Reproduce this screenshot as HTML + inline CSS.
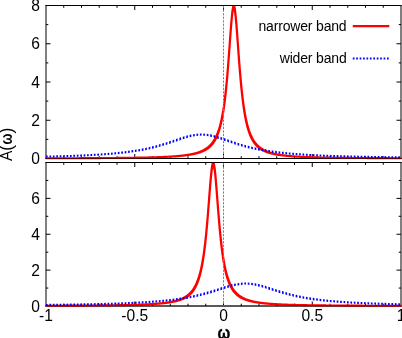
<!DOCTYPE html>
<html><head><meta charset="utf-8"><style>
html,body{margin:0;padding:0;background:#fff;overflow:hidden;}
svg{display:block;}
text{filter:grayscale(1);font-family:"Liberation Sans",sans-serif;font-size:15.6px;fill:#000;}
</style></head><body>
<svg width="402" height="338" viewBox="0 0 402 338">
<rect width="402" height="338" fill="#fff"/>
<clipPath id="c0"><rect x="45.5" y="6.0" width="356.0" height="156.0"/></clipPath>
<path d="M46.0,5.0 V159.0 M401.0,5.0 V159.0 M45.5,5.5 H401.5 M45.5,158.5 H401.5 M63.75,158.5 v-2.3 M63.75,5.5 v2.3 M81.50,158.5 v-2.3 M81.50,5.5 v2.3 M99.25,158.5 v-2.3 M99.25,5.5 v2.3 M117.00,158.5 v-2.3 M117.00,5.5 v2.3 M134.75,158.5 v-4.5 M134.75,5.5 v4.5 M152.50,158.5 v-2.3 M152.50,5.5 v2.3 M170.25,158.5 v-2.3 M170.25,5.5 v2.3 M188.00,158.5 v-2.3 M188.00,5.5 v2.3 M205.75,158.5 v-2.3 M205.75,5.5 v2.3 M223.50,158.5 v-4.5 M223.50,5.5 v4.5 M241.25,158.5 v-2.3 M241.25,5.5 v2.3 M259.00,158.5 v-2.3 M259.00,5.5 v2.3 M276.75,158.5 v-2.3 M276.75,5.5 v2.3 M294.50,158.5 v-2.3 M294.50,5.5 v2.3 M312.25,158.5 v-4.5 M312.25,5.5 v4.5 M330.00,158.5 v-2.3 M330.00,5.5 v2.3 M347.75,158.5 v-2.3 M347.75,5.5 v2.3 M365.50,158.5 v-2.3 M365.50,5.5 v2.3 M383.25,158.5 v-2.3 M383.25,5.5 v2.3 M46.0,139.38 h2.3 M401.0,139.38 h-2.3 M46.0,120.25 h4.5 M401.0,120.25 h-4.5 M46.0,101.12 h2.3 M401.0,101.12 h-2.3 M46.0,82.00 h4.5 M401.0,82.00 h-4.5 M46.0,62.88 h2.3 M401.0,62.88 h-2.3 M46.0,43.75 h4.5 M401.0,43.75 h-4.5 M46.0,24.62 h2.3 M401.0,24.62 h-2.3" stroke="#000" stroke-width="1" fill="none"/>
<g clip-path="url(#c0)">
<path d="M43.0,157.23 43.4,157.23 43.8,157.23 44.2,157.23 44.6,157.23 45.0,157.23 45.4,157.23 45.8,157.23 46.2,157.23 46.6,157.23 47.0,157.23 47.4,157.23 47.8,157.23 48.2,157.22 48.6,157.22 49.0,157.22 49.4,157.22 49.8,157.22 50.2,157.22 50.6,157.22 51.0,157.22 51.4,157.22 51.8,157.22 52.2,157.21 52.6,157.21 53.0,157.21 53.4,157.21 53.8,157.21 54.2,157.21 54.6,157.21 55.0,157.21 55.4,157.21 55.8,157.21 56.2,157.20 56.6,157.20 57.0,157.20 57.4,157.20 57.8,157.20 58.2,157.20 58.6,157.20 59.0,157.20 59.4,157.19 59.8,157.19 60.2,157.19 60.6,157.19 61.0,157.19 61.4,157.19 61.8,157.19 62.2,157.19 62.6,157.19 63.0,157.18 63.4,157.18 63.8,157.18 64.2,157.18 64.6,157.18 65.0,157.18 65.4,157.18 65.8,157.17 66.2,157.17 66.6,157.17 67.0,157.17 67.4,157.17 67.8,157.17 68.2,157.17 68.6,157.17 69.0,157.16 69.4,157.16 69.8,157.16 70.2,157.16 70.6,157.16 71.0,157.16 71.4,157.16 71.8,157.15 72.2,157.15 72.6,157.15 73.0,157.15 73.4,157.15 73.8,157.15 74.2,157.15 74.6,157.14 75.0,157.14 75.4,157.14 75.8,157.14 76.2,157.14 76.6,157.14 77.0,157.13 77.4,157.13 77.8,157.13 78.2,157.13 78.6,157.13 79.0,157.13 79.4,157.12 79.8,157.12 80.2,157.12 80.6,157.12 81.0,157.12 81.4,157.12 81.8,157.11 82.2,157.11 82.6,157.11 83.0,157.11 83.4,157.11 83.8,157.10 84.2,157.10 84.6,157.10 85.0,157.10 85.4,157.10 85.8,157.10 86.2,157.09 86.6,157.09 87.0,157.09 87.4,157.09 87.8,157.09 88.2,157.08 88.6,157.08 89.0,157.08 89.4,157.08 89.8,157.08 90.2,157.07 90.6,157.07 91.0,157.07 91.4,157.07 91.8,157.06 92.2,157.06 92.6,157.06 93.0,157.06 93.4,157.06 93.8,157.05 94.2,157.05 94.6,157.05 95.0,157.05 95.4,157.04 95.8,157.04 96.2,157.04 96.6,157.04 97.0,157.03 97.4,157.03 97.8,157.03 98.2,157.03 98.6,157.02 99.0,157.02 99.4,157.02 99.8,157.02 100.2,157.01 100.6,157.01 101.0,157.01 101.4,157.01 101.8,157.00 102.2,157.00 102.6,157.00 103.0,157.00 103.4,156.99 103.8,156.99 104.2,156.99 104.6,156.98 105.0,156.98 105.4,156.98 105.8,156.97 106.2,156.97 106.6,156.97 107.0,156.97 107.4,156.96 107.8,156.96 108.2,156.96 108.6,156.95 109.0,156.95 109.4,156.95 109.8,156.94 110.2,156.94 110.6,156.94 111.0,156.93 111.4,156.93 111.8,156.93 112.2,156.92 112.6,156.92 113.0,156.92 113.4,156.91 113.8,156.91 114.2,156.91 114.6,156.90 115.0,156.90 115.4,156.89 115.8,156.89 116.2,156.89 116.6,156.88 117.0,156.88 117.4,156.87 117.8,156.87 118.2,156.87 118.6,156.86 119.0,156.86 119.4,156.85 119.8,156.85 120.2,156.85 120.6,156.84 121.0,156.84 121.4,156.83 121.8,156.83 122.2,156.82 122.6,156.82 123.0,156.82 123.4,156.81 123.8,156.81 124.2,156.80 124.6,156.80 125.0,156.79 125.4,156.79 125.8,156.78 126.2,156.78 126.6,156.77 127.0,156.77 127.4,156.76 127.8,156.76 128.2,156.75 128.6,156.75 129.0,156.74 129.4,156.73 129.8,156.73 130.2,156.72 130.6,156.72 131.0,156.71 131.4,156.71 131.8,156.70 132.2,156.69 132.6,156.69 133.0,156.68 133.4,156.68 133.8,156.67 134.2,156.66 134.6,156.66 135.0,156.65 135.4,156.64 135.8,156.64 136.2,156.63 136.6,156.62 137.0,156.62 137.4,156.61 137.8,156.60 138.2,156.60 138.6,156.59 139.0,156.58 139.4,156.57 139.8,156.57 140.2,156.56 140.6,156.55 141.0,156.54 141.4,156.54 141.8,156.53 142.2,156.52 142.6,156.51 143.0,156.50 143.4,156.49 143.8,156.49 144.2,156.48 144.6,156.47 145.0,156.46 145.4,156.45 145.8,156.44 146.2,156.43 146.6,156.42 147.0,156.41 147.4,156.40 147.8,156.39 148.2,156.38 148.6,156.37 149.0,156.36 149.4,156.35 149.8,156.34 150.2,156.33 150.6,156.32 151.0,156.31 151.4,156.30 151.8,156.29 152.2,156.28 152.6,156.26 153.0,156.25 153.4,156.24 153.8,156.23 154.2,156.22 154.6,156.20 155.0,156.19 155.4,156.18 155.8,156.16 156.2,156.15 156.6,156.14 157.0,156.12 157.4,156.11 157.8,156.09 158.2,156.08 158.6,156.07 159.0,156.05 159.4,156.04 159.8,156.02 160.2,156.00 160.6,155.99 161.0,155.97 161.4,155.96 161.8,155.94 162.2,155.92 162.6,155.91 163.0,155.89 163.4,155.87 163.8,155.85 164.2,155.83 164.6,155.81 165.0,155.79 165.4,155.78 165.8,155.76 166.2,155.74 166.6,155.71 167.0,155.69 167.4,155.67 167.8,155.65 168.2,155.63 168.6,155.61 169.0,155.58 169.4,155.56 169.8,155.54 170.2,155.51 170.6,155.49 171.0,155.46 171.4,155.44 171.8,155.41 172.2,155.38 172.6,155.36 173.0,155.33 173.4,155.30 173.8,155.27 174.2,155.24 174.6,155.21 175.0,155.18 175.4,155.15 175.8,155.12 176.2,155.09 176.6,155.05 177.0,155.02 177.4,154.98 177.8,154.95 178.2,154.91 178.6,154.87 179.0,154.84 179.4,154.80 179.8,154.76 180.2,154.72 180.6,154.68 181.0,154.63 181.4,154.59 181.8,154.55 182.2,154.50 182.6,154.46 183.0,154.41 183.4,154.36 183.8,154.31 184.2,154.26 184.6,154.21 185.0,154.15 185.4,154.10 185.8,154.04 186.2,153.99 186.6,153.93 187.0,153.87 187.4,153.80 187.8,153.74 188.2,153.68 188.6,153.61 189.0,153.54 189.4,153.47 189.8,153.40 190.2,153.32 190.6,153.25 191.0,153.17 191.4,153.09 191.8,153.00 192.2,152.92 192.6,152.83 193.0,152.74 193.4,152.65 193.8,152.55 194.2,152.45 194.6,152.35 195.0,152.24 195.4,152.14 195.8,152.02 196.2,151.91 196.6,151.79 197.0,151.67 197.4,151.54 197.8,151.41 198.2,151.28 198.6,151.14 199.0,150.99 199.4,150.84 199.8,150.69 200.2,150.53 200.6,150.36 201.0,150.19 201.4,150.02 201.8,149.83 202.2,149.64 202.6,149.44 203.0,149.24 203.4,149.03 203.8,148.81 204.2,148.58 204.6,148.34 205.0,148.09 205.4,147.83 205.8,147.56 206.2,147.28 206.6,146.99 207.0,146.68 207.4,146.37 207.8,146.04 208.2,145.69 208.6,145.33 209.0,144.95 209.4,144.55 209.8,144.14 210.2,143.71 210.6,143.25 211.0,142.78 211.4,142.28 211.8,141.75 212.2,141.20 212.6,140.62 213.0,140.01 213.4,139.37 213.8,138.69 214.2,137.98 214.6,137.23 215.0,136.43 215.4,135.59 215.8,134.71 216.2,133.77 216.6,132.77 217.0,131.72 217.4,130.60 217.8,129.41 218.2,128.15 218.6,126.80 219.0,125.38 219.4,123.86 219.8,122.24 220.2,120.51 220.6,118.67 221.0,116.70 221.4,114.60 221.8,112.36 222.2,109.96 222.6,107.40 223.0,104.66 223.4,101.74 223.8,98.61 224.2,95.28 224.6,91.73 225.0,87.95 225.4,83.93 225.8,79.68 226.2,75.18 226.6,70.45 227.0,65.49 227.4,60.34 227.8,55.00 228.2,49.54 228.6,44.00 229.0,38.45 229.4,32.98 229.8,27.69 230.2,22.69 230.6,18.10 231.0,14.05 231.4,10.66 231.8,8.05 232.2,6.30 232.6,5.47 233.0,5.41 233.4,5.41 233.8,5.41 234.2,5.41 234.6,5.41 235.0,5.48 235.4,6.33 235.8,8.10 236.2,10.74 236.6,14.15 237.0,18.21 237.4,22.81 237.8,27.82 238.2,33.11 238.6,38.59 239.0,44.14 239.4,49.68 239.8,55.14 240.2,60.47 240.6,65.62 241.0,70.57 241.4,75.30 241.8,79.79 242.2,84.04 242.6,88.05 243.0,91.82 243.4,95.37 243.8,98.69 244.2,101.81 244.6,104.73 245.0,107.46 245.4,110.02 245.8,112.41 246.2,114.65 246.6,116.75 247.0,118.71 247.4,120.55 247.8,122.28 248.2,123.90 248.6,125.41 249.0,126.84 249.4,128.18 249.8,129.44 250.2,130.63 250.6,131.74 251.0,132.80 251.4,133.79 251.8,134.73 252.2,135.61 252.6,136.45 253.0,137.25 253.4,138.00 253.8,138.71 254.2,139.39 254.6,140.03 255.0,140.64 255.4,141.21 255.8,141.77 256.2,142.29 256.6,142.79 257.0,143.26 257.4,143.72 257.8,144.15 258.2,144.56 258.6,144.96 259.0,145.34 259.4,145.70 259.8,146.04 260.2,146.37 260.6,146.69 261.0,147.00 261.4,147.29 261.8,147.57 262.2,147.84 262.6,148.09 263.0,148.34 263.4,148.58 263.8,148.81 264.2,149.03 264.6,149.24 265.0,149.45 265.4,149.65 265.8,149.84 266.2,150.02 266.6,150.20 267.0,150.37 267.4,150.53 267.8,150.69 268.2,150.85 268.6,151.00 269.0,151.14 269.4,151.28 269.8,151.41 270.2,151.54 270.6,151.67 271.0,151.79 271.4,151.91 271.8,152.03 272.2,152.14 272.6,152.25 273.0,152.35 273.4,152.45 273.8,152.55 274.2,152.65 274.6,152.74 275.0,152.83 275.4,152.92 275.8,153.01 276.2,153.09 276.6,153.17 277.0,153.25 277.4,153.32 277.8,153.40 278.2,153.47 278.6,153.54 279.0,153.61 279.4,153.68 279.8,153.74 280.2,153.81 280.6,153.87 281.0,153.93 281.4,153.99 281.8,154.04 282.2,154.10 282.6,154.16 283.0,154.21 283.4,154.26 283.8,154.31 284.2,154.36 284.6,154.41 285.0,154.46 285.4,154.50 285.8,154.55 286.2,154.59 286.6,154.64 287.0,154.68 287.4,154.72 287.8,154.76 288.2,154.80 288.6,154.84 289.0,154.88 289.4,154.91 289.8,154.95 290.2,154.98 290.6,155.02 291.0,155.05 291.4,155.09 291.8,155.12 292.2,155.15 292.6,155.18 293.0,155.21 293.4,155.24 293.8,155.27 294.2,155.30 294.6,155.33 295.0,155.36 295.4,155.38 295.8,155.41 296.2,155.44 296.6,155.46 297.0,155.49 297.4,155.51 297.8,155.54 298.2,155.56 298.6,155.58 299.0,155.61 299.4,155.63 299.8,155.65 300.2,155.67 300.6,155.69 301.0,155.72 301.4,155.74 301.8,155.76 302.2,155.78 302.6,155.80 303.0,155.81 303.4,155.83 303.8,155.85 304.2,155.87 304.6,155.89 305.0,155.91 305.4,155.92 305.8,155.94 306.2,155.96 306.6,155.97 307.0,155.99 307.4,156.01 307.8,156.02 308.2,156.04 308.6,156.05 309.0,156.07 309.4,156.08 309.8,156.10 310.2,156.11 310.6,156.12 311.0,156.14 311.4,156.15 311.8,156.16 312.2,156.18 312.6,156.19 313.0,156.20 313.4,156.22 313.8,156.23 314.2,156.24 314.6,156.25 315.0,156.26 315.4,156.28 315.8,156.29 316.2,156.30 316.6,156.31 317.0,156.32 317.4,156.33 317.8,156.34 318.2,156.35 318.6,156.36 319.0,156.37 319.4,156.38 319.8,156.39 320.2,156.40 320.6,156.41 321.0,156.42 321.4,156.43 321.8,156.44 322.2,156.45 322.6,156.46 323.0,156.47 323.4,156.48 323.8,156.49 324.2,156.49 324.6,156.50 325.0,156.51 325.4,156.52 325.8,156.53 326.2,156.54 326.6,156.54 327.0,156.55 327.4,156.56 327.8,156.57 328.2,156.57 328.6,156.58 329.0,156.59 329.4,156.60 329.8,156.60 330.2,156.61 330.6,156.62 331.0,156.62 331.4,156.63 331.8,156.64 332.2,156.64 332.6,156.65 333.0,156.66 333.4,156.66 333.8,156.67 334.2,156.68 334.6,156.68 335.0,156.69 335.4,156.69 335.8,156.70 336.2,156.71 336.6,156.71 337.0,156.72 337.4,156.72 337.8,156.73 338.2,156.73 338.6,156.74 339.0,156.75 339.4,156.75 339.8,156.76 340.2,156.76 340.6,156.77 341.0,156.77 341.4,156.78 341.8,156.78 342.2,156.79 342.6,156.79 343.0,156.80 343.4,156.80 343.8,156.81 344.2,156.81 344.6,156.82 345.0,156.82 345.4,156.82 345.8,156.83 346.2,156.83 346.6,156.84 347.0,156.84 347.4,156.85 347.8,156.85 348.2,156.85 348.6,156.86 349.0,156.86 349.4,156.87 349.8,156.87 350.2,156.88 350.6,156.88 351.0,156.88 351.4,156.89 351.8,156.89 352.2,156.89 352.6,156.90 353.0,156.90 353.4,156.91 353.8,156.91 354.2,156.91 354.6,156.92 355.0,156.92 355.4,156.92 355.8,156.93 356.2,156.93 356.6,156.93 357.0,156.94 357.4,156.94 357.8,156.94 358.2,156.95 358.6,156.95 359.0,156.95 359.4,156.96 359.8,156.96 360.2,156.96 360.6,156.97 361.0,156.97 361.4,156.97 361.8,156.98 362.2,156.98 362.6,156.98 363.0,156.98 363.4,156.99 363.8,156.99 364.2,156.99 364.6,157.00 365.0,157.00 365.4,157.00 365.8,157.00 366.2,157.01 366.6,157.01 367.0,157.01 367.4,157.01 367.8,157.02 368.2,157.02 368.6,157.02 369.0,157.02 369.4,157.03 369.8,157.03 370.2,157.03 370.6,157.03 371.0,157.04 371.4,157.04 371.8,157.04 372.2,157.04 372.6,157.05 373.0,157.05 373.4,157.05 373.8,157.05 374.2,157.06 374.6,157.06 375.0,157.06 375.4,157.06 375.8,157.06 376.2,157.07 376.6,157.07 377.0,157.07 377.4,157.07 377.8,157.08 378.2,157.08 378.6,157.08 379.0,157.08 379.4,157.08 379.8,157.09 380.2,157.09 380.6,157.09 381.0,157.09 381.4,157.09 381.8,157.10 382.2,157.10 382.6,157.10 383.0,157.10 383.4,157.10 383.8,157.10 384.2,157.11 384.6,157.11 385.0,157.11 385.4,157.11 385.8,157.11 386.2,157.12 386.6,157.12 387.0,157.12 387.4,157.12 387.8,157.12 388.2,157.12 388.6,157.13 389.0,157.13 389.4,157.13 389.8,157.13 390.2,157.13 390.6,157.13 391.0,157.14 391.4,157.14 391.8,157.14 392.2,157.14 392.6,157.14 393.0,157.14 393.4,157.15 393.8,157.15 394.2,157.15 394.6,157.15 395.0,157.15 395.4,157.15 395.8,157.15 396.2,157.16 396.6,157.16 397.0,157.16 397.4,157.16 397.8,157.16 398.2,157.16 398.6,157.16 399.0,157.17 399.4,157.17 399.8,157.17 400.2,157.17 400.6,157.17 401.0,157.17 401.4,157.17 401.8,157.17 402.2,157.18 402.6,157.18 403.0,157.18 403.4,157.18 403.8,157.18 403.8,159.28 403.4,159.28 403.0,159.28 402.6,159.28 402.2,159.28 401.8,159.28 401.4,159.28 401.0,159.28 400.6,159.28 400.2,159.28 399.8,159.28 399.4,159.27 399.0,159.27 398.6,159.27 398.2,159.27 397.8,159.27 397.4,159.27 397.0,159.27 396.6,159.26 396.2,159.26 395.8,159.26 395.4,159.26 395.0,159.26 394.6,159.26 394.2,159.26 393.8,159.25 393.4,159.25 393.0,159.25 392.6,159.25 392.2,159.25 391.8,159.25 391.4,159.25 391.0,159.24 390.6,159.24 390.2,159.24 389.8,159.24 389.4,159.24 389.0,159.24 388.6,159.23 388.2,159.23 387.8,159.23 387.4,159.23 387.0,159.23 386.6,159.23 386.2,159.22 385.8,159.22 385.4,159.22 385.0,159.22 384.6,159.22 384.2,159.22 383.8,159.21 383.4,159.21 383.0,159.21 382.6,159.21 382.2,159.21 381.8,159.21 381.4,159.20 381.0,159.20 380.6,159.20 380.2,159.20 379.8,159.20 379.4,159.19 379.0,159.19 378.6,159.19 378.2,159.19 377.8,159.19 377.4,159.18 377.0,159.18 376.6,159.18 376.2,159.18 375.8,159.18 375.4,159.17 375.0,159.17 374.6,159.17 374.2,159.17 373.8,159.17 373.4,159.16 373.0,159.16 372.6,159.16 372.2,159.16 371.8,159.15 371.4,159.15 371.0,159.15 370.6,159.15 370.2,159.14 369.8,159.14 369.4,159.14 369.0,159.14 368.6,159.14 368.2,159.13 367.8,159.13 367.4,159.13 367.0,159.13 366.6,159.12 366.2,159.12 365.8,159.12 365.4,159.11 365.0,159.11 364.6,159.11 364.2,159.11 363.8,159.10 363.4,159.10 363.0,159.10 362.6,159.10 362.2,159.09 361.8,159.09 361.4,159.09 361.0,159.08 360.6,159.08 360.2,159.08 359.8,159.08 359.4,159.07 359.0,159.07 358.6,159.07 358.2,159.06 357.8,159.06 357.4,159.06 357.0,159.05 356.6,159.05 356.2,159.05 355.8,159.04 355.4,159.04 355.0,159.04 354.6,159.03 354.2,159.03 353.8,159.03 353.4,159.02 353.0,159.02 352.6,159.02 352.2,159.01 351.8,159.01 351.4,159.01 351.0,159.00 350.6,159.00 350.2,159.00 349.8,158.99 349.4,158.99 349.0,158.98 348.6,158.98 348.2,158.98 347.8,158.97 347.4,158.97 347.0,158.96 346.6,158.96 346.2,158.96 345.8,158.95 345.4,158.95 345.0,158.94 344.6,158.94 344.2,158.93 343.8,158.93 343.4,158.93 343.0,158.92 342.6,158.92 342.2,158.91 341.8,158.91 341.4,158.90 341.0,158.90 340.6,158.89 340.2,158.89 339.8,158.88 339.4,158.88 339.0,158.87 338.6,158.87 338.2,158.86 337.8,158.86 337.4,158.85 337.0,158.85 336.6,158.84 336.2,158.84 335.8,158.83 335.4,158.82 335.0,158.82 334.6,158.81 334.2,158.81 333.8,158.80 333.4,158.80 333.0,158.79 332.6,158.78 332.2,158.78 331.8,158.77 331.4,158.77 331.0,158.76 330.6,158.75 330.2,158.75 329.8,158.74 329.4,158.73 329.0,158.73 328.6,158.72 328.2,158.71 327.8,158.70 327.4,158.70 327.0,158.69 326.6,158.68 326.2,158.68 325.8,158.67 325.4,158.66 325.0,158.65 324.6,158.65 324.2,158.64 323.8,158.63 323.4,158.62 323.0,158.61 322.6,158.60 322.2,158.60 321.8,158.59 321.4,158.58 321.0,158.57 320.6,158.56 320.2,158.55 319.8,158.54 319.4,158.53 319.0,158.52 318.6,158.52 318.2,158.51 317.8,158.50 317.4,158.49 317.0,158.48 316.6,158.47 316.2,158.46 315.8,158.44 315.4,158.43 315.0,158.42 314.6,158.41 314.2,158.40 313.8,158.39 313.4,158.38 313.0,158.37 312.6,158.36 312.2,158.34 311.8,158.33 311.4,158.32 311.0,158.31 310.6,158.29 310.2,158.28 309.8,158.27 309.4,158.25 309.0,158.24 308.6,158.23 308.2,158.21 307.8,158.20 307.4,158.18 307.0,158.17 306.6,158.16 306.2,158.14 305.8,158.12 305.4,158.11 305.0,158.09 304.6,158.08 304.2,158.06 303.8,158.04 303.4,158.03 303.0,158.01 302.6,157.99 302.2,157.97 301.8,157.96 301.4,157.94 301.0,157.92 300.6,157.90 300.2,157.88 299.8,157.86 299.4,157.84 299.0,157.82 298.6,157.80 298.2,157.78 297.8,157.76 297.4,157.73 297.0,157.71 296.6,157.69 296.2,157.67 295.8,157.64 295.4,157.62 295.0,157.59 294.6,157.57 294.2,157.54 293.8,157.52 293.4,157.49 293.0,157.46 292.6,157.44 292.2,157.41 291.8,157.38 291.4,157.35 291.0,157.32 290.6,157.29 290.2,157.26 289.8,157.23 289.4,157.19 289.0,157.16 288.6,157.13 288.2,157.09 287.8,157.06 287.4,157.02 287.0,156.99 286.6,156.95 286.2,156.91 285.8,156.87 285.4,156.83 285.0,156.79 284.6,156.75 284.2,156.70 283.8,156.66 283.4,156.61 283.0,156.57 282.6,156.52 282.2,156.47 281.8,156.42 281.4,156.37 281.0,156.32 280.6,156.27 280.2,156.21 279.8,156.16 279.4,156.10 279.0,156.04 278.6,155.98 278.2,155.92 277.8,155.86 277.4,155.79 277.0,155.73 276.6,155.66 276.2,155.59 275.8,155.52 275.4,155.44 275.0,155.37 274.6,155.29 274.2,155.21 273.8,155.13 273.4,155.04 273.0,154.95 272.6,154.86 272.2,154.77 271.8,154.68 271.4,154.58 271.0,154.48 270.6,154.37 270.2,154.27 269.8,154.16 269.4,154.04 269.0,153.92 268.6,153.80 268.2,153.68 267.8,153.55 267.4,153.41 267.0,153.28 266.6,153.13 266.2,152.98 265.8,152.83 265.4,152.67 265.0,152.51 264.6,152.34 264.2,152.17 263.8,151.98 263.4,151.79 263.0,151.60 262.6,151.40 262.2,151.19 261.8,150.97 261.4,150.74 261.0,150.50 260.6,150.26 260.2,150.00 259.8,149.74 259.4,149.46 259.0,149.17 258.6,148.87 258.2,148.56 257.8,148.23 257.4,147.89 257.0,147.53 256.6,147.16 256.2,146.76 255.8,146.36 255.4,145.93 255.0,145.48 254.6,145.01 254.2,144.52 253.8,144.00 253.4,143.46 253.0,142.88 252.6,142.28 252.2,141.65 251.8,140.98 251.4,140.28 251.0,139.54 250.6,138.76 250.2,137.93 249.8,137.05 249.4,136.13 249.0,135.15 248.6,134.11 248.2,133.01 247.8,131.84 247.4,130.60 247.0,129.28 246.6,127.88 246.2,126.38 245.8,124.79 245.4,123.10 245.0,121.29 244.6,119.35 244.2,117.29 243.8,115.09 243.4,112.73 243.0,110.22 242.6,107.53 242.2,104.66 241.8,101.59 241.4,98.32 241.0,94.83 240.6,91.11 240.2,87.16 239.8,82.97 239.4,78.54 239.0,73.87 238.6,68.98 238.2,63.87 237.8,58.59 237.4,53.15 237.0,47.63 236.6,42.07 236.2,36.57 235.8,31.22 235.4,26.13 235.0,21.41 234.6,17.20 234.2,13.62 233.8,10.78 233.4,13.54 233.0,17.11 232.6,21.30 232.2,26.00 231.8,31.09 231.4,36.43 231.0,41.93 230.6,47.49 230.2,53.02 229.8,58.45 229.4,63.74 229.0,68.85 228.6,73.75 228.2,78.43 227.8,82.86 227.4,87.06 227.0,91.02 226.6,94.74 226.2,98.23 225.8,101.51 225.4,104.59 225.0,107.46 224.6,110.15 224.2,112.67 223.8,115.03 223.4,117.24 223.0,119.30 222.6,121.24 222.2,123.05 221.8,124.75 221.4,126.35 221.0,127.84 220.6,129.25 220.2,130.57 219.8,131.81 219.4,132.98 219.0,134.09 218.6,135.12 218.2,136.11 217.8,137.03 217.4,137.91 217.0,138.74 216.6,139.52 216.2,140.26 215.8,140.97 215.4,141.63 215.0,142.27 214.6,142.87 214.2,143.44 213.8,143.99 213.4,144.50 213.0,145.00 212.6,145.47 212.2,145.92 211.8,146.35 211.4,146.75 211.0,147.15 210.6,147.52 210.2,147.88 209.8,148.22 209.4,148.55 209.0,148.86 208.6,149.16 208.2,149.45 207.8,149.73 207.4,150.00 207.0,150.25 206.6,150.50 206.2,150.73 205.8,150.96 205.4,151.18 205.0,151.39 204.6,151.59 204.2,151.79 203.8,151.98 203.4,152.16 203.0,152.34 202.6,152.51 202.2,152.67 201.8,152.83 201.4,152.98 201.0,153.13 200.6,153.27 200.2,153.41 199.8,153.54 199.4,153.67 199.0,153.80 198.6,153.92 198.2,154.04 197.8,154.15 197.4,154.26 197.0,154.37 196.6,154.47 196.2,154.58 195.8,154.67 195.4,154.77 195.0,154.86 194.6,154.95 194.2,155.04 193.8,155.12 193.4,155.21 193.0,155.29 192.6,155.37 192.2,155.44 191.8,155.52 191.4,155.59 191.0,155.66 190.6,155.73 190.2,155.79 189.8,155.86 189.4,155.92 189.0,155.98 188.6,156.04 188.2,156.10 187.8,156.16 187.4,156.21 187.0,156.27 186.6,156.32 186.2,156.37 185.8,156.42 185.4,156.47 185.0,156.52 184.6,156.57 184.2,156.61 183.8,156.66 183.4,156.70 183.0,156.75 182.6,156.79 182.2,156.83 181.8,156.87 181.4,156.91 181.0,156.95 180.6,156.98 180.2,157.02 179.8,157.06 179.4,157.09 179.0,157.13 178.6,157.16 178.2,157.19 177.8,157.23 177.4,157.26 177.0,157.29 176.6,157.32 176.2,157.35 175.8,157.38 175.4,157.41 175.0,157.44 174.6,157.46 174.2,157.49 173.8,157.52 173.4,157.54 173.0,157.57 172.6,157.59 172.2,157.62 171.8,157.64 171.4,157.67 171.0,157.69 170.6,157.71 170.2,157.73 169.8,157.76 169.4,157.78 169.0,157.80 168.6,157.82 168.2,157.84 167.8,157.86 167.4,157.88 167.0,157.90 166.6,157.92 166.2,157.94 165.8,157.96 165.4,157.97 165.0,157.99 164.6,158.01 164.2,158.03 163.8,158.04 163.4,158.06 163.0,158.08 162.6,158.09 162.2,158.11 161.8,158.12 161.4,158.14 161.0,158.15 160.6,158.17 160.2,158.18 159.8,158.20 159.4,158.21 159.0,158.23 158.6,158.24 158.2,158.25 157.8,158.27 157.4,158.28 157.0,158.29 156.6,158.31 156.2,158.32 155.8,158.33 155.4,158.34 155.0,158.35 154.6,158.37 154.2,158.38 153.8,158.39 153.4,158.40 153.0,158.41 152.6,158.42 152.2,158.43 151.8,158.44 151.4,158.46 151.0,158.47 150.6,158.48 150.2,158.49 149.8,158.50 149.4,158.51 149.0,158.52 148.6,158.52 148.2,158.53 147.8,158.54 147.4,158.55 147.0,158.56 146.6,158.57 146.2,158.58 145.8,158.59 145.4,158.60 145.0,158.60 144.6,158.61 144.2,158.62 143.8,158.63 143.4,158.64 143.0,158.65 142.6,158.65 142.2,158.66 141.8,158.67 141.4,158.68 141.0,158.68 140.6,158.69 140.2,158.70 139.8,158.70 139.4,158.71 139.0,158.72 138.6,158.73 138.2,158.73 137.8,158.74 137.4,158.75 137.0,158.75 136.6,158.76 136.2,158.76 135.8,158.77 135.4,158.78 135.0,158.78 134.6,158.79 134.2,158.80 133.8,158.80 133.4,158.81 133.0,158.81 132.6,158.82 132.2,158.82 131.8,158.83 131.4,158.84 131.0,158.84 130.6,158.85 130.2,158.85 129.8,158.86 129.4,158.86 129.0,158.87 128.6,158.87 128.2,158.88 127.8,158.88 127.4,158.89 127.0,158.89 126.6,158.90 126.2,158.90 125.8,158.91 125.4,158.91 125.0,158.92 124.6,158.92 124.2,158.93 123.8,158.93 123.4,158.93 123.0,158.94 122.6,158.94 122.2,158.95 121.8,158.95 121.4,158.96 121.0,158.96 120.6,158.96 120.2,158.97 119.8,158.97 119.4,158.98 119.0,158.98 118.6,158.98 118.2,158.99 117.8,158.99 117.4,159.00 117.0,159.00 116.6,159.00 116.2,159.01 115.8,159.01 115.4,159.01 115.0,159.02 114.6,159.02 114.2,159.02 113.8,159.03 113.4,159.03 113.0,159.03 112.6,159.04 112.2,159.04 111.8,159.04 111.4,159.05 111.0,159.05 110.6,159.05 110.2,159.06 109.8,159.06 109.4,159.06 109.0,159.07 108.6,159.07 108.2,159.07 107.8,159.08 107.4,159.08 107.0,159.08 106.6,159.08 106.2,159.09 105.8,159.09 105.4,159.09 105.0,159.10 104.6,159.10 104.2,159.10 103.8,159.10 103.4,159.11 103.0,159.11 102.6,159.11 102.2,159.11 101.8,159.12 101.4,159.12 101.0,159.12 100.6,159.13 100.2,159.13 99.8,159.13 99.4,159.13 99.0,159.13 98.6,159.14 98.2,159.14 97.8,159.14 97.4,159.14 97.0,159.15 96.6,159.15 96.2,159.15 95.8,159.15 95.4,159.16 95.0,159.16 94.6,159.16 94.2,159.16 93.8,159.16 93.4,159.17 93.0,159.17 92.6,159.17 92.2,159.17 91.8,159.18 91.4,159.18 91.0,159.18 90.6,159.18 90.2,159.18 89.8,159.19 89.4,159.19 89.0,159.19 88.6,159.19 88.2,159.19 87.8,159.20 87.4,159.20 87.0,159.20 86.6,159.20 86.2,159.20 85.8,159.21 85.4,159.21 85.0,159.21 84.6,159.21 84.2,159.21 83.8,159.21 83.4,159.22 83.0,159.22 82.6,159.22 82.2,159.22 81.8,159.22 81.4,159.22 81.0,159.23 80.6,159.23 80.2,159.23 79.8,159.23 79.4,159.23 79.0,159.23 78.6,159.24 78.2,159.24 77.8,159.24 77.4,159.24 77.0,159.24 76.6,159.24 76.2,159.25 75.8,159.25 75.4,159.25 75.0,159.25 74.6,159.25 74.2,159.25 73.8,159.25 73.4,159.26 73.0,159.26 72.6,159.26 72.2,159.26 71.8,159.26 71.4,159.26 71.0,159.26 70.6,159.27 70.2,159.27 69.8,159.27 69.4,159.27 69.0,159.27 68.6,159.27 68.2,159.27 67.8,159.28 67.4,159.28 67.0,159.28 66.6,159.28 66.2,159.28 65.8,159.28 65.4,159.28 65.0,159.28 64.6,159.29 64.2,159.29 63.8,159.29 63.4,159.29 63.0,159.29 62.6,159.29 62.2,159.29 61.8,159.29 61.4,159.30 61.0,159.30 60.6,159.30 60.2,159.30 59.8,159.30 59.4,159.30 59.0,159.30 58.6,159.30 58.2,159.30 57.8,159.31 57.4,159.31 57.0,159.31 56.6,159.31 56.2,159.31 55.8,159.31 55.4,159.31 55.0,159.31 54.6,159.31 54.2,159.32 53.8,159.32 53.4,159.32 53.0,159.32 52.6,159.32 52.2,159.32 51.8,159.32 51.4,159.32 51.0,159.32 50.6,159.32 50.2,159.33 49.8,159.33 49.4,159.33 49.0,159.33 48.6,159.33 48.2,159.33 47.8,159.33 47.4,159.33 47.0,159.33 46.6,159.33 46.2,159.33 45.8,159.33 45.4,159.33 45.0,159.33 44.6,159.33 44.2,159.33 43.8,159.33 43.4,159.33 43.0,159.33Z" fill="#ff0000"/>
<path d="M46.00,155.61 L47.70,155.57 L47.70,157.62 L46.00,157.66Z M49.42,155.53 L51.12,155.49 L51.12,157.54 L49.42,157.58Z M52.84,155.45 L54.54,155.40 L54.54,157.45 L52.84,157.50Z M56.26,155.36 L57.96,155.31 L57.96,157.37 L56.26,157.41Z M59.68,155.26 L61.38,155.21 L61.38,157.27 L59.68,157.32Z M63.10,155.16 L64.80,155.11 L64.80,157.17 L63.10,157.22Z M66.52,155.05 L68.22,155.00 L68.22,157.06 L66.52,157.12Z M69.94,154.93 L71.64,154.88 L71.64,156.95 L69.94,157.00Z M73.36,154.81 L75.06,154.75 L75.06,156.82 L73.36,156.89Z M76.78,154.68 L78.48,154.61 L78.48,156.69 L76.78,156.76Z M80.20,154.53 L81.90,154.46 L81.90,156.55 L80.20,156.62Z M83.62,154.38 L85.32,154.30 L85.32,156.39 L83.62,156.47Z M87.04,154.22 L88.74,154.13 L88.74,156.23 L87.04,156.32Z M90.46,154.04 L92.16,153.95 L92.16,156.05 L90.46,156.15Z M93.88,153.85 L95.58,153.75 L95.58,155.86 L93.88,155.96Z M97.30,153.64 L99.00,153.53 L99.00,155.66 L97.30,155.77Z M100.72,153.42 L102.42,153.30 L102.42,155.44 L100.72,155.55Z M104.14,153.17 L105.84,153.05 L105.84,155.20 L104.14,155.32Z M107.56,152.91 L109.26,152.78 L109.26,154.94 L107.56,155.07Z M110.98,152.63 L112.68,152.48 L112.68,154.65 L110.98,154.80Z M114.40,152.32 L116.10,152.16 L116.10,154.34 L114.40,154.50Z M117.82,151.98 L119.52,151.80 L119.52,154.01 L117.82,154.18Z M121.24,151.61 L122.94,151.42 L122.94,153.64 L121.24,153.83Z M124.66,151.21 L126.36,151.00 L126.36,153.25 L124.66,153.45Z M128.08,150.77 L129.78,150.55 L129.78,152.81 L128.08,153.04Z M131.50,150.29 L133.20,150.05 L133.20,152.34 L131.50,152.58Z M134.92,149.77 L136.62,149.50 L136.62,151.82 L134.92,152.09Z M138.34,149.20 L140.04,148.90 L140.04,151.25 L138.34,151.55Z M141.76,148.57 L143.46,148.25 L143.46,150.63 L141.76,150.95Z M145.18,147.89 L146.88,147.54 L146.88,149.95 L145.18,150.30Z M148.60,147.14 L150.30,146.76 L150.30,149.21 L148.60,149.60Z M152.02,146.33 L153.72,145.92 L153.72,148.41 L152.02,148.83Z M155.44,145.46 L157.14,145.01 L157.14,147.54 L155.44,147.99Z M158.86,144.51 L160.56,144.03 L160.56,146.60 L158.86,147.08Z M162.28,143.50 L163.98,142.98 L163.98,145.59 L162.28,146.11Z M165.70,142.43 L167.40,141.88 L167.40,144.53 L165.70,145.07Z M169.12,141.30 L170.82,140.74 L170.82,143.41 L169.12,143.97Z M172.54,140.15 L174.24,139.56 L174.24,142.25 L172.54,142.83Z M175.96,138.97 L177.66,138.39 L177.66,141.08 L175.96,141.66Z M179.38,137.82 L181.08,137.25 L181.08,139.92 L179.38,140.48Z M182.80,136.72 L184.50,136.19 L184.50,138.81 L182.80,139.34Z M186.22,135.72 L187.92,135.25 L187.92,137.80 L186.22,138.27Z M189.64,134.86 L191.34,134.48 L191.34,136.93 L189.64,137.31Z M193.06,134.20 L194.76,133.92 L194.76,136.25 L193.06,136.53Z M196.48,133.77 L198.18,133.62 L198.18,135.80 L196.48,135.96Z M199.90,133.60 L201.60,133.58 L201.60,135.61 L199.90,135.63Z M203.32,133.57 L205.02,133.69 L205.02,135.82 L203.32,135.71Z M206.74,133.79 L208.44,134.03 L208.44,136.32 L206.74,136.07Z M210.16,134.27 L211.86,134.62 L211.86,137.04 L210.16,136.68Z M213.58,134.97 L215.28,135.42 L215.28,137.94 L213.58,137.49Z M217.00,135.86 L218.70,136.37 L218.70,138.98 L217.00,138.46Z M220.42,136.89 L222.12,137.45 L222.12,140.10 L220.42,139.55Z M223.84,138.01 L225.54,138.59 L225.54,141.27 L223.84,140.69Z M227.26,139.18 L228.96,139.76 L228.96,142.45 L227.26,141.86Z M230.68,140.35 L232.38,140.93 L232.38,143.60 L230.68,143.03Z M234.10,141.51 L235.80,142.06 L235.80,144.72 L234.10,144.16Z M237.52,142.63 L239.22,143.16 L239.22,145.78 L237.52,145.25Z M240.94,143.69 L242.64,144.19 L242.64,146.77 L240.94,146.27Z M244.36,144.69 L246.06,145.15 L246.06,147.70 L244.36,147.24Z M247.78,145.63 L249.48,146.05 L249.48,148.56 L247.78,148.13Z M251.20,146.49 L252.90,146.89 L252.90,149.35 L251.20,148.95Z M254.62,147.29 L256.32,147.65 L256.32,150.08 L254.62,149.71Z M258.04,148.02 L259.74,148.35 L259.74,150.75 L258.04,150.41Z M261.46,148.69 L263.16,149.00 L263.16,151.36 L261.46,151.05Z M264.88,149.31 L266.58,149.59 L266.58,151.92 L264.88,151.64Z M268.30,149.87 L270.00,150.13 L270.00,152.43 L268.30,152.17Z M271.72,150.39 L273.42,150.62 L273.42,152.89 L271.72,152.66Z M275.14,150.86 L276.84,151.07 L276.84,153.32 L275.14,153.11Z M278.56,151.29 L280.26,151.48 L280.26,153.71 L278.56,153.52Z M281.98,151.68 L283.68,151.86 L283.68,154.07 L281.98,153.89Z M285.40,152.04 L287.10,152.21 L287.10,154.40 L285.40,154.24Z M288.82,152.38 L290.52,152.53 L290.52,154.71 L288.82,154.55Z M292.24,152.68 L293.94,152.82 L293.94,154.98 L292.24,154.84Z M295.66,152.96 L297.36,153.09 L297.36,155.24 L295.66,155.11Z M299.08,153.22 L300.78,153.34 L300.78,155.48 L299.08,155.36Z M302.50,153.46 L304.20,153.57 L304.20,155.70 L302.50,155.59Z M305.92,153.68 L307.62,153.78 L307.62,155.90 L305.92,155.80Z M309.34,153.88 L311.04,153.98 L311.04,156.09 L309.34,155.99Z M312.76,154.07 L314.46,154.16 L314.46,156.26 L312.76,156.17Z M316.18,154.25 L317.88,154.33 L317.88,156.42 L316.18,156.34Z M319.60,154.41 L321.30,154.48 L321.30,156.57 L319.60,156.50Z M323.02,154.56 L324.72,154.63 L324.72,156.71 L323.02,156.64Z M326.44,154.70 L328.14,154.77 L328.14,156.84 L326.44,156.78Z M329.86,154.83 L331.56,154.89 L331.56,156.97 L329.86,156.91Z M333.28,154.96 L334.98,155.01 L334.98,157.08 L333.28,157.02Z M336.70,155.07 L338.40,155.12 L338.40,157.19 L336.70,157.13Z M340.12,155.18 L341.82,155.23 L341.82,157.29 L340.12,157.24Z M343.54,155.28 L345.24,155.33 L345.24,157.38 L343.54,157.33Z M346.96,155.37 L348.66,155.42 L348.66,157.47 L346.96,157.43Z M350.38,155.46 L352.08,155.50 L352.08,157.55 L350.38,157.51Z M353.80,155.55 L355.50,155.59 L355.50,157.63 L353.80,157.59Z M357.22,155.62 L358.92,155.66 L358.92,157.70 L357.22,157.67Z M360.64,155.70 L362.34,155.73 L362.34,157.77 L360.64,157.74Z M364.06,155.77 L365.76,155.80 L365.76,157.84 L364.06,157.81Z M367.48,155.83 L369.18,155.87 L369.18,157.90 L367.48,157.87Z M370.90,155.90 L372.60,155.93 L372.60,157.96 L370.90,157.93Z M374.32,155.96 L376.02,155.98 L376.02,158.02 L374.32,157.99Z M377.74,156.01 L379.44,156.04 L379.44,158.07 L377.74,158.04Z M381.16,156.07 L382.86,156.09 L382.86,158.12 L381.16,158.09Z M384.58,156.12 L386.28,156.14 L386.28,158.17 L384.58,158.14Z M388.00,156.16 L389.70,156.19 L389.70,158.21 L388.00,158.19Z M391.42,156.21 L393.12,156.23 L393.12,158.25 L391.42,158.23Z M394.84,156.25 L396.54,156.27 L396.54,158.30 L394.84,158.28Z M398.26,156.29 L399.96,156.31 L399.96,158.33 L398.26,158.32Z" fill="#0000ff"/>
</g>
<path d="M223.50,6.0 V158.5" stroke="#00e000" stroke-width="1" stroke-dasharray="2.3 1.25" fill="none"/>
<path d="M45.5,158.5 H401.5" stroke="#000" stroke-width="1" fill="none" opacity="0.6"/>
<text x="40" y="164.10" text-anchor="end">0</text>
<text x="40" y="125.85" text-anchor="end">2</text>
<text x="40" y="87.60" text-anchor="end">4</text>
<text x="40" y="49.35" text-anchor="end">6</text>
<text x="40" y="11.10" text-anchor="end">8</text>
<clipPath id="c1"><rect x="45.5" y="163.0" width="356.0" height="146.5"/></clipPath>
<path d="M46.0,162.0 V306.5 M401.0,162.0 V306.5 M45.5,162.5 H401.5 M45.5,306.0 H401.5 M63.75,306.0 v-2.3 M63.75,162.5 v2.3 M81.50,306.0 v-2.3 M81.50,162.5 v2.3 M99.25,306.0 v-2.3 M99.25,162.5 v2.3 M117.00,306.0 v-2.3 M117.00,162.5 v2.3 M134.75,306.0 v-4.5 M134.75,162.5 v4.5 M152.50,306.0 v-2.3 M152.50,162.5 v2.3 M170.25,306.0 v-2.3 M170.25,162.5 v2.3 M188.00,306.0 v-2.3 M188.00,162.5 v2.3 M205.75,306.0 v-2.3 M205.75,162.5 v2.3 M223.50,306.0 v-4.5 M223.50,162.5 v4.5 M241.25,306.0 v-2.3 M241.25,162.5 v2.3 M259.00,306.0 v-2.3 M259.00,162.5 v2.3 M276.75,306.0 v-2.3 M276.75,162.5 v2.3 M294.50,306.0 v-2.3 M294.50,162.5 v2.3 M312.25,306.0 v-4.5 M312.25,162.5 v4.5 M330.00,306.0 v-2.3 M330.00,162.5 v2.3 M347.75,306.0 v-2.3 M347.75,162.5 v2.3 M365.50,306.0 v-2.3 M365.50,162.5 v2.3 M383.25,306.0 v-2.3 M383.25,162.5 v2.3 M46.0,288.06 h2.3 M401.0,288.06 h-2.3 M46.0,270.12 h4.5 M401.0,270.12 h-4.5 M46.0,252.19 h2.3 M401.0,252.19 h-2.3 M46.0,234.25 h4.5 M401.0,234.25 h-4.5 M46.0,216.31 h2.3 M401.0,216.31 h-2.3 M46.0,198.38 h4.5 M401.0,198.38 h-4.5 M46.0,180.44 h2.3 M401.0,180.44 h-2.3" stroke="#000" stroke-width="1" fill="none"/>
<g clip-path="url(#c1)">
<path d="M43.0,304.69 43.4,304.69 43.8,304.69 44.2,304.69 44.6,304.69 45.0,304.69 45.4,304.69 45.8,304.69 46.2,304.69 46.6,304.69 47.0,304.69 47.4,304.69 47.8,304.68 48.2,304.68 48.6,304.68 49.0,304.68 49.4,304.68 49.8,304.68 50.2,304.68 50.6,304.67 51.0,304.67 51.4,304.67 51.8,304.67 52.2,304.67 52.6,304.67 53.0,304.67 53.4,304.66 53.8,304.66 54.2,304.66 54.6,304.66 55.0,304.66 55.4,304.66 55.8,304.66 56.2,304.65 56.6,304.65 57.0,304.65 57.4,304.65 57.8,304.65 58.2,304.65 58.6,304.65 59.0,304.64 59.4,304.64 59.8,304.64 60.2,304.64 60.6,304.64 61.0,304.64 61.4,304.63 61.8,304.63 62.2,304.63 62.6,304.63 63.0,304.63 63.4,304.63 63.8,304.62 64.2,304.62 64.6,304.62 65.0,304.62 65.4,304.62 65.8,304.61 66.2,304.61 66.6,304.61 67.0,304.61 67.4,304.61 67.8,304.61 68.2,304.60 68.6,304.60 69.0,304.60 69.4,304.60 69.8,304.60 70.2,304.59 70.6,304.59 71.0,304.59 71.4,304.59 71.8,304.59 72.2,304.58 72.6,304.58 73.0,304.58 73.4,304.58 73.8,304.57 74.2,304.57 74.6,304.57 75.0,304.57 75.4,304.57 75.8,304.56 76.2,304.56 76.6,304.56 77.0,304.56 77.4,304.55 77.8,304.55 78.2,304.55 78.6,304.55 79.0,304.54 79.4,304.54 79.8,304.54 80.2,304.54 80.6,304.54 81.0,304.53 81.4,304.53 81.8,304.53 82.2,304.52 82.6,304.52 83.0,304.52 83.4,304.52 83.8,304.51 84.2,304.51 84.6,304.51 85.0,304.51 85.4,304.50 85.8,304.50 86.2,304.50 86.6,304.49 87.0,304.49 87.4,304.49 87.8,304.49 88.2,304.48 88.6,304.48 89.0,304.48 89.4,304.47 89.8,304.47 90.2,304.47 90.6,304.46 91.0,304.46 91.4,304.46 91.8,304.45 92.2,304.45 92.6,304.45 93.0,304.44 93.4,304.44 93.8,304.44 94.2,304.43 94.6,304.43 95.0,304.43 95.4,304.42 95.8,304.42 96.2,304.42 96.6,304.41 97.0,304.41 97.4,304.41 97.8,304.40 98.2,304.40 98.6,304.39 99.0,304.39 99.4,304.39 99.8,304.38 100.2,304.38 100.6,304.37 101.0,304.37 101.4,304.37 101.8,304.36 102.2,304.36 102.6,304.35 103.0,304.35 103.4,304.34 103.8,304.34 104.2,304.33 104.6,304.33 105.0,304.33 105.4,304.32 105.8,304.32 106.2,304.31 106.6,304.31 107.0,304.30 107.4,304.30 107.8,304.29 108.2,304.29 108.6,304.28 109.0,304.28 109.4,304.27 109.8,304.27 110.2,304.26 110.6,304.26 111.0,304.25 111.4,304.24 111.8,304.24 112.2,304.23 112.6,304.23 113.0,304.22 113.4,304.22 113.8,304.21 114.2,304.20 114.6,304.20 115.0,304.19 115.4,304.18 115.8,304.18 116.2,304.17 116.6,304.17 117.0,304.16 117.4,304.15 117.8,304.15 118.2,304.14 118.6,304.13 119.0,304.12 119.4,304.12 119.8,304.11 120.2,304.10 120.6,304.10 121.0,304.09 121.4,304.08 121.8,304.07 122.2,304.07 122.6,304.06 123.0,304.05 123.4,304.04 123.8,304.03 124.2,304.02 124.6,304.02 125.0,304.01 125.4,304.00 125.8,303.99 126.2,303.98 126.6,303.97 127.0,303.96 127.4,303.95 127.8,303.94 128.2,303.94 128.6,303.93 129.0,303.92 129.4,303.91 129.8,303.90 130.2,303.89 130.6,303.88 131.0,303.86 131.4,303.85 131.8,303.84 132.2,303.83 132.6,303.82 133.0,303.81 133.4,303.80 133.8,303.79 134.2,303.77 134.6,303.76 135.0,303.75 135.4,303.74 135.8,303.73 136.2,303.71 136.6,303.70 137.0,303.69 137.4,303.67 137.8,303.66 138.2,303.65 138.6,303.63 139.0,303.62 139.4,303.60 139.8,303.59 140.2,303.57 140.6,303.56 141.0,303.54 141.4,303.53 141.8,303.51 142.2,303.49 142.6,303.48 143.0,303.46 143.4,303.44 143.8,303.42 144.2,303.41 144.6,303.39 145.0,303.37 145.4,303.35 145.8,303.33 146.2,303.31 146.6,303.29 147.0,303.27 147.4,303.25 147.8,303.23 148.2,303.21 148.6,303.19 149.0,303.17 149.4,303.14 149.8,303.12 150.2,303.10 150.6,303.07 151.0,303.05 151.4,303.03 151.8,303.00 152.2,302.97 152.6,302.95 153.0,302.92 153.4,302.89 153.8,302.87 154.2,302.84 154.6,302.81 155.0,302.78 155.4,302.75 155.8,302.72 156.2,302.69 156.6,302.65 157.0,302.62 157.4,302.59 157.8,302.55 158.2,302.52 158.6,302.48 159.0,302.45 159.4,302.41 159.8,302.37 160.2,302.33 160.6,302.29 161.0,302.25 161.4,302.21 161.8,302.16 162.2,302.12 162.6,302.08 163.0,302.03 163.4,301.98 163.8,301.93 164.2,301.89 164.6,301.83 165.0,301.78 165.4,301.73 165.8,301.68 166.2,301.62 166.6,301.56 167.0,301.50 167.4,301.44 167.8,301.38 168.2,301.32 168.6,301.25 169.0,301.18 169.4,301.12 169.8,301.04 170.2,300.97 170.6,300.90 171.0,300.82 171.4,300.74 171.8,300.66 172.2,300.58 172.6,300.49 173.0,300.40 173.4,300.31 173.8,300.22 174.2,300.12 174.6,300.02 175.0,299.92 175.4,299.81 175.8,299.70 176.2,299.59 176.6,299.47 177.0,299.35 177.4,299.23 177.8,299.10 178.2,298.97 178.6,298.83 179.0,298.69 179.4,298.54 179.8,298.39 180.2,298.23 180.6,298.07 181.0,297.90 181.4,297.72 181.8,297.54 182.2,297.35 182.6,297.15 183.0,296.95 183.4,296.74 183.8,296.52 184.2,296.29 184.6,296.06 185.0,295.81 185.4,295.55 185.8,295.28 186.2,295.00 186.6,294.71 187.0,294.41 187.4,294.09 187.8,293.76 188.2,293.41 188.6,293.05 189.0,292.67 189.4,292.28 189.8,291.86 190.2,291.42 190.6,290.97 191.0,290.49 191.4,289.98 191.8,289.45 192.2,288.90 192.6,288.31 193.0,287.69 193.4,287.04 193.8,286.36 194.2,285.63 194.6,284.87 195.0,284.06 195.4,283.21 195.8,282.30 196.2,281.34 196.6,280.32 197.0,279.24 197.4,278.10 197.8,276.88 198.2,275.58 198.6,274.20 199.0,272.73 199.4,271.17 199.8,269.50 200.2,267.71 200.6,265.81 201.0,263.78 201.4,261.61 201.8,259.29 202.2,256.81 202.6,254.16 203.0,251.33 203.4,248.31 203.8,245.08 204.2,241.65 204.6,238.00 205.0,234.13 205.4,230.03 205.8,225.71 206.2,221.17 206.6,216.43 207.0,211.51 207.4,206.44 207.8,201.28 208.2,196.07 208.6,190.89 209.0,185.82 209.4,180.98 209.8,176.46 210.2,172.38 210.6,168.86 211.0,166.02 211.4,163.94 211.8,162.70 212.2,162.35 212.6,162.35 213.0,162.35 213.4,162.35 213.8,162.35 214.2,162.35 214.6,162.68 215.0,163.90 215.4,165.95 215.8,168.78 216.2,172.28 216.6,176.35 217.0,180.86 217.4,185.70 217.8,190.76 218.2,195.94 218.6,201.15 219.0,206.32 219.4,211.38 219.8,216.31 220.2,221.05 220.6,225.60 221.0,229.93 221.4,234.03 221.8,237.91 222.2,241.56 222.6,245.00 223.0,248.23 223.4,251.25 223.8,254.09 224.2,256.74 224.6,259.23 225.0,261.55 225.4,263.73 225.8,265.76 226.2,267.67 226.6,269.45 227.0,271.13 227.4,272.69 227.8,274.17 228.2,275.55 228.6,276.85 229.0,278.07 229.4,279.22 229.8,280.30 230.2,281.32 230.6,282.28 231.0,283.18 231.4,284.04 231.8,284.85 232.2,285.62 232.6,286.34 233.0,287.03 233.4,287.68 233.8,288.30 234.2,288.88 234.6,289.44 235.0,289.97 235.4,290.48 235.8,290.96 236.2,291.41 236.6,291.85 237.0,292.27 237.4,292.66 237.8,293.04 238.2,293.40 238.6,293.75 239.0,294.08 239.4,294.40 239.8,294.71 240.2,295.00 240.6,295.28 241.0,295.54 241.4,295.80 241.8,296.05 242.2,296.29 242.6,296.52 243.0,296.74 243.4,296.95 243.8,297.15 244.2,297.35 244.6,297.53 245.0,297.72 245.4,297.89 245.8,298.06 246.2,298.22 246.6,298.38 247.0,298.53 247.4,298.68 247.8,298.82 248.2,298.96 248.6,299.09 249.0,299.22 249.4,299.35 249.8,299.47 250.2,299.59 250.6,299.70 251.0,299.81 251.4,299.91 251.8,300.02 252.2,300.12 252.6,300.21 253.0,300.31 253.4,300.40 253.8,300.49 254.2,300.57 254.6,300.66 255.0,300.74 255.4,300.82 255.8,300.90 256.2,300.97 256.6,301.04 257.0,301.11 257.4,301.18 257.8,301.25 258.2,301.32 258.6,301.38 259.0,301.44 259.4,301.50 259.8,301.56 260.2,301.62 260.6,301.67 261.0,301.73 261.4,301.78 261.8,301.83 262.2,301.88 262.6,301.93 263.0,301.98 263.4,302.03 263.8,302.07 264.2,302.12 264.6,302.16 265.0,302.21 265.4,302.25 265.8,302.29 266.2,302.33 266.6,302.37 267.0,302.41 267.4,302.44 267.8,302.48 268.2,302.52 268.6,302.55 269.0,302.59 269.4,302.62 269.8,302.65 270.2,302.69 270.6,302.72 271.0,302.75 271.4,302.78 271.8,302.81 272.2,302.84 272.6,302.87 273.0,302.89 273.4,302.92 273.8,302.95 274.2,302.97 274.6,303.00 275.0,303.02 275.4,303.05 275.8,303.07 276.2,303.10 276.6,303.12 277.0,303.14 277.4,303.17 277.8,303.19 278.2,303.21 278.6,303.23 279.0,303.25 279.4,303.27 279.8,303.29 280.2,303.31 280.6,303.33 281.0,303.35 281.4,303.37 281.8,303.39 282.2,303.41 282.6,303.42 283.0,303.44 283.4,303.46 283.8,303.48 284.2,303.49 284.6,303.51 285.0,303.53 285.4,303.54 285.8,303.56 286.2,303.57 286.6,303.59 287.0,303.60 287.4,303.62 287.8,303.63 288.2,303.64 288.6,303.66 289.0,303.67 289.4,303.69 289.8,303.70 290.2,303.71 290.6,303.72 291.0,303.74 291.4,303.75 291.8,303.76 292.2,303.77 292.6,303.79 293.0,303.80 293.4,303.81 293.8,303.82 294.2,303.83 294.6,303.84 295.0,303.85 295.4,303.86 295.8,303.87 296.2,303.89 296.6,303.90 297.0,303.91 297.4,303.92 297.8,303.93 298.2,303.94 298.6,303.94 299.0,303.95 299.4,303.96 299.8,303.97 300.2,303.98 300.6,303.99 301.0,304.00 301.4,304.01 301.8,304.02 302.2,304.02 302.6,304.03 303.0,304.04 303.4,304.05 303.8,304.06 304.2,304.07 304.6,304.07 305.0,304.08 305.4,304.09 305.8,304.10 306.2,304.10 306.6,304.11 307.0,304.12 307.4,304.12 307.8,304.13 308.2,304.14 308.6,304.15 309.0,304.15 309.4,304.16 309.8,304.17 310.2,304.17 310.6,304.18 311.0,304.18 311.4,304.19 311.8,304.20 312.2,304.20 312.6,304.21 313.0,304.22 313.4,304.22 313.8,304.23 314.2,304.23 314.6,304.24 315.0,304.24 315.4,304.25 315.8,304.25 316.2,304.26 316.6,304.27 317.0,304.27 317.4,304.28 317.8,304.28 318.2,304.29 318.6,304.29 319.0,304.30 319.4,304.30 319.8,304.31 320.2,304.31 320.6,304.32 321.0,304.32 321.4,304.33 321.8,304.33 322.2,304.33 322.6,304.34 323.0,304.34 323.4,304.35 323.8,304.35 324.2,304.36 324.6,304.36 325.0,304.37 325.4,304.37 325.8,304.37 326.2,304.38 326.6,304.38 327.0,304.39 327.4,304.39 327.8,304.39 328.2,304.40 328.6,304.40 329.0,304.41 329.4,304.41 329.8,304.41 330.2,304.42 330.6,304.42 331.0,304.42 331.4,304.43 331.8,304.43 332.2,304.43 332.6,304.44 333.0,304.44 333.4,304.44 333.8,304.45 334.2,304.45 334.6,304.45 335.0,304.46 335.4,304.46 335.8,304.46 336.2,304.47 336.6,304.47 337.0,304.47 337.4,304.48 337.8,304.48 338.2,304.48 338.6,304.49 339.0,304.49 339.4,304.49 339.8,304.49 340.2,304.50 340.6,304.50 341.0,304.50 341.4,304.51 341.8,304.51 342.2,304.51 342.6,304.51 343.0,304.52 343.4,304.52 343.8,304.52 344.2,304.52 344.6,304.53 345.0,304.53 345.4,304.53 345.8,304.53 346.2,304.54 346.6,304.54 347.0,304.54 347.4,304.54 347.8,304.55 348.2,304.55 348.6,304.55 349.0,304.55 349.4,304.56 349.8,304.56 350.2,304.56 350.6,304.56 351.0,304.57 351.4,304.57 351.8,304.57 352.2,304.57 352.6,304.57 353.0,304.58 353.4,304.58 353.8,304.58 354.2,304.58 354.6,304.59 355.0,304.59 355.4,304.59 355.8,304.59 356.2,304.59 356.6,304.60 357.0,304.60 357.4,304.60 357.8,304.60 358.2,304.60 358.6,304.61 359.0,304.61 359.4,304.61 359.8,304.61 360.2,304.61 360.6,304.61 361.0,304.62 361.4,304.62 361.8,304.62 362.2,304.62 362.6,304.62 363.0,304.63 363.4,304.63 363.8,304.63 364.2,304.63 364.6,304.63 365.0,304.63 365.4,304.64 365.8,304.64 366.2,304.64 366.6,304.64 367.0,304.64 367.4,304.64 367.8,304.65 368.2,304.65 368.6,304.65 369.0,304.65 369.4,304.65 369.8,304.65 370.2,304.65 370.6,304.66 371.0,304.66 371.4,304.66 371.8,304.66 372.2,304.66 372.6,304.66 373.0,304.66 373.4,304.67 373.8,304.67 374.2,304.67 374.6,304.67 375.0,304.67 375.4,304.67 375.8,304.67 376.2,304.68 376.6,304.68 377.0,304.68 377.4,304.68 377.8,304.68 378.2,304.68 378.6,304.68 379.0,304.69 379.4,304.69 379.8,304.69 380.2,304.69 380.6,304.69 381.0,304.69 381.4,304.69 381.8,304.69 382.2,304.70 382.6,304.70 383.0,304.70 383.4,304.70 383.8,304.70 384.2,304.70 384.6,304.70 385.0,304.70 385.4,304.70 385.8,304.71 386.2,304.71 386.6,304.71 387.0,304.71 387.4,304.71 387.8,304.71 388.2,304.71 388.6,304.71 389.0,304.71 389.4,304.72 389.8,304.72 390.2,304.72 390.6,304.72 391.0,304.72 391.4,304.72 391.8,304.72 392.2,304.72 392.6,304.72 393.0,304.72 393.4,304.73 393.8,304.73 394.2,304.73 394.6,304.73 395.0,304.73 395.4,304.73 395.8,304.73 396.2,304.73 396.6,304.73 397.0,304.73 397.4,304.74 397.8,304.74 398.2,304.74 398.6,304.74 399.0,304.74 399.4,304.74 399.8,304.74 400.2,304.74 400.6,304.74 401.0,304.74 401.4,304.74 401.8,304.75 402.2,304.75 402.6,304.75 403.0,304.75 403.4,304.75 403.8,304.75 403.8,306.85 403.4,306.85 403.0,306.85 402.6,306.85 402.2,306.85 401.8,306.85 401.4,306.85 401.0,306.85 400.6,306.85 400.2,306.85 399.8,306.85 399.4,306.84 399.0,306.84 398.6,306.84 398.2,306.84 397.8,306.84 397.4,306.84 397.0,306.84 396.6,306.84 396.2,306.84 395.8,306.84 395.4,306.84 395.0,306.83 394.6,306.83 394.2,306.83 393.8,306.83 393.4,306.83 393.0,306.83 392.6,306.83 392.2,306.83 391.8,306.83 391.4,306.83 391.0,306.83 390.6,306.82 390.2,306.82 389.8,306.82 389.4,306.82 389.0,306.82 388.6,306.82 388.2,306.82 387.8,306.82 387.4,306.82 387.0,306.81 386.6,306.81 386.2,306.81 385.8,306.81 385.4,306.81 385.0,306.81 384.6,306.81 384.2,306.81 383.8,306.81 383.4,306.80 383.0,306.80 382.6,306.80 382.2,306.80 381.8,306.80 381.4,306.80 381.0,306.80 380.6,306.80 380.2,306.80 379.8,306.79 379.4,306.79 379.0,306.79 378.6,306.79 378.2,306.79 377.8,306.79 377.4,306.79 377.0,306.79 376.6,306.78 376.2,306.78 375.8,306.78 375.4,306.78 375.0,306.78 374.6,306.78 374.2,306.78 373.8,306.77 373.4,306.77 373.0,306.77 372.6,306.77 372.2,306.77 371.8,306.77 371.4,306.77 371.0,306.77 370.6,306.76 370.2,306.76 369.8,306.76 369.4,306.76 369.0,306.76 368.6,306.76 368.2,306.75 367.8,306.75 367.4,306.75 367.0,306.75 366.6,306.75 366.2,306.75 365.8,306.75 365.4,306.74 365.0,306.74 364.6,306.74 364.2,306.74 363.8,306.74 363.4,306.74 363.0,306.73 362.6,306.73 362.2,306.73 361.8,306.73 361.4,306.73 361.0,306.73 360.6,306.72 360.2,306.72 359.8,306.72 359.4,306.72 359.0,306.72 358.6,306.71 358.2,306.71 357.8,306.71 357.4,306.71 357.0,306.71 356.6,306.71 356.2,306.70 355.8,306.70 355.4,306.70 355.0,306.70 354.6,306.70 354.2,306.69 353.8,306.69 353.4,306.69 353.0,306.69 352.6,306.69 352.2,306.68 351.8,306.68 351.4,306.68 351.0,306.68 350.6,306.68 350.2,306.67 349.8,306.67 349.4,306.67 349.0,306.67 348.6,306.66 348.2,306.66 347.8,306.66 347.4,306.66 347.0,306.65 346.6,306.65 346.2,306.65 345.8,306.65 345.4,306.65 345.0,306.64 344.6,306.64 344.2,306.64 343.8,306.64 343.4,306.63 343.0,306.63 342.6,306.63 342.2,306.63 341.8,306.62 341.4,306.62 341.0,306.62 340.6,306.61 340.2,306.61 339.8,306.61 339.4,306.61 339.0,306.60 338.6,306.60 338.2,306.60 337.8,306.60 337.4,306.59 337.0,306.59 336.6,306.59 336.2,306.58 335.8,306.58 335.4,306.58 335.0,306.57 334.6,306.57 334.2,306.57 333.8,306.56 333.4,306.56 333.0,306.56 332.6,306.56 332.2,306.55 331.8,306.55 331.4,306.55 331.0,306.54 330.6,306.54 330.2,306.53 329.8,306.53 329.4,306.53 329.0,306.52 328.6,306.52 328.2,306.52 327.8,306.51 327.4,306.51 327.0,306.51 326.6,306.50 326.2,306.50 325.8,306.49 325.4,306.49 325.0,306.49 324.6,306.48 324.2,306.48 323.8,306.47 323.4,306.47 323.0,306.47 322.6,306.46 322.2,306.46 321.8,306.45 321.4,306.45 321.0,306.44 320.6,306.44 320.2,306.44 319.8,306.43 319.4,306.43 319.0,306.42 318.6,306.42 318.2,306.41 317.8,306.41 317.4,306.40 317.0,306.40 316.6,306.39 316.2,306.39 315.8,306.38 315.4,306.38 315.0,306.37 314.6,306.37 314.2,306.36 313.8,306.36 313.4,306.35 313.0,306.35 312.6,306.34 312.2,306.33 311.8,306.33 311.4,306.32 311.0,306.32 310.6,306.31 310.2,306.30 309.8,306.30 309.4,306.29 309.0,306.29 308.6,306.28 308.2,306.27 307.8,306.27 307.4,306.26 307.0,306.25 306.6,306.25 306.2,306.24 305.8,306.23 305.4,306.23 305.0,306.22 304.6,306.21 304.2,306.20 303.8,306.20 303.4,306.19 303.0,306.18 302.6,306.17 302.2,306.17 301.8,306.16 301.4,306.15 301.0,306.14 300.6,306.14 300.2,306.13 299.8,306.12 299.4,306.11 299.0,306.10 298.6,306.09 298.2,306.08 297.8,306.07 297.4,306.07 297.0,306.06 296.6,306.05 296.2,306.04 295.8,306.03 295.4,306.02 295.0,306.01 294.6,306.00 294.2,305.99 293.8,305.98 293.4,305.97 293.0,305.96 292.6,305.95 292.2,305.93 291.8,305.92 291.4,305.91 291.0,305.90 290.6,305.89 290.2,305.88 289.8,305.87 289.4,305.85 289.0,305.84 288.6,305.83 288.2,305.82 287.8,305.80 287.4,305.79 287.0,305.78 286.6,305.76 286.2,305.75 285.8,305.73 285.4,305.72 285.0,305.71 284.6,305.69 284.2,305.68 283.8,305.66 283.4,305.64 283.0,305.63 282.6,305.61 282.2,305.60 281.8,305.58 281.4,305.56 281.0,305.55 280.6,305.53 280.2,305.51 279.8,305.49 279.4,305.47 279.0,305.46 278.6,305.44 278.2,305.42 277.8,305.40 277.4,305.38 277.0,305.36 276.6,305.34 276.2,305.32 275.8,305.29 275.4,305.27 275.0,305.25 274.6,305.23 274.2,305.20 273.8,305.18 273.4,305.16 273.0,305.13 272.6,305.11 272.2,305.08 271.8,305.05 271.4,305.03 271.0,305.00 270.6,304.97 270.2,304.94 269.8,304.91 269.4,304.89 269.0,304.86 268.6,304.82 268.2,304.79 267.8,304.76 267.4,304.73 267.0,304.70 266.6,304.66 266.2,304.63 265.8,304.59 265.4,304.55 265.0,304.52 264.6,304.48 264.2,304.44 263.8,304.40 263.4,304.36 263.0,304.32 262.6,304.27 262.2,304.23 261.8,304.19 261.4,304.14 261.0,304.09 260.6,304.05 260.2,304.00 259.8,303.95 259.4,303.89 259.0,303.84 258.6,303.79 258.2,303.73 257.8,303.67 257.4,303.62 257.0,303.56 256.6,303.49 256.2,303.43 255.8,303.37 255.4,303.30 255.0,303.23 254.6,303.16 254.2,303.09 253.8,303.01 253.4,302.94 253.0,302.86 252.6,302.78 252.2,302.70 251.8,302.61 251.4,302.52 251.0,302.43 250.6,302.34 250.2,302.24 249.8,302.14 249.4,302.04 249.0,301.93 248.6,301.83 248.2,301.71 247.8,301.60 247.4,301.48 247.0,301.35 246.6,301.23 246.2,301.10 245.8,300.96 245.4,300.82 245.0,300.67 244.6,300.52 244.2,300.36 243.8,300.20 243.4,300.04 243.0,299.86 242.6,299.68 242.2,299.49 241.8,299.30 241.4,299.10 241.0,298.89 240.6,298.67 240.2,298.45 239.8,298.21 239.4,297.96 239.0,297.71 238.6,297.44 238.2,297.17 237.8,296.88 237.4,296.58 237.0,296.26 236.6,295.94 236.2,295.59 235.8,295.23 235.4,294.86 235.0,294.47 234.6,294.06 234.2,293.62 233.8,293.17 233.4,292.70 233.0,292.20 232.6,291.68 232.2,291.13 231.8,290.55 231.4,289.94 231.0,289.29 230.6,288.62 230.2,287.90 229.8,287.15 229.4,286.35 229.0,285.50 228.6,284.61 228.2,283.66 227.8,282.66 227.4,281.59 227.0,280.46 226.6,279.26 226.2,277.98 225.8,276.62 225.4,275.17 225.0,273.63 224.6,271.98 224.2,270.22 223.8,268.35 223.4,266.35 223.0,264.21 222.6,261.92 222.2,259.48 221.8,256.87 221.4,254.08 221.0,251.10 220.6,247.93 220.2,244.54 219.8,240.94 219.4,237.12 219.0,233.07 218.6,228.80 218.2,224.31 217.8,219.61 217.4,214.73 217.0,209.69 216.6,204.55 216.2,199.34 215.8,194.15 215.4,189.05 215.0,184.14 214.6,179.54 214.2,175.35 213.8,171.70 213.4,168.69 213.0,168.76 212.6,171.78 212.2,175.45 211.8,179.65 211.4,184.26 211.0,189.17 210.6,194.27 210.2,199.47 209.8,204.67 209.4,209.82 209.0,214.85 208.6,219.73 208.2,224.42 207.8,228.91 207.4,233.18 207.0,237.22 206.6,241.04 206.2,244.63 205.8,248.01 205.4,251.18 205.0,254.15 204.6,256.94 204.2,259.54 203.8,261.98 203.4,264.26 203.0,266.40 202.6,268.40 202.2,270.27 201.8,272.02 201.4,273.67 201.0,275.21 200.6,276.65 200.2,278.01 199.8,279.29 199.4,280.49 199.0,281.62 198.6,282.68 198.2,283.69 197.8,284.63 197.4,285.52 197.0,286.37 196.6,287.16 196.2,287.92 195.8,288.63 195.4,289.31 195.0,289.95 194.6,290.56 194.2,291.14 193.8,291.69 193.4,292.21 193.0,292.71 192.6,293.18 192.2,293.64 191.8,294.07 191.4,294.48 191.0,294.87 190.6,295.24 190.2,295.60 189.8,295.94 189.4,296.27 189.0,296.59 188.6,296.89 188.2,297.17 187.8,297.45 187.4,297.72 187.0,297.97 186.6,298.22 186.2,298.45 185.8,298.68 185.4,298.89 185.0,299.10 184.6,299.30 184.2,299.50 183.8,299.69 183.4,299.87 183.0,300.04 182.6,300.21 182.2,300.37 181.8,300.52 181.4,300.68 181.0,300.82 180.6,300.96 180.2,301.10 179.8,301.23 179.4,301.36 179.0,301.48 178.6,301.60 178.2,301.72 177.8,301.83 177.4,301.94 177.0,302.04 176.6,302.14 176.2,302.24 175.8,302.34 175.4,302.43 175.0,302.52 174.6,302.61 174.2,302.70 173.8,302.78 173.4,302.86 173.0,302.94 172.6,303.02 172.2,303.09 171.8,303.16 171.4,303.23 171.0,303.30 170.6,303.37 170.2,303.43 169.8,303.50 169.4,303.56 169.0,303.62 168.6,303.68 168.2,303.73 167.8,303.79 167.4,303.84 167.0,303.90 166.6,303.95 166.2,304.00 165.8,304.05 165.4,304.09 165.0,304.14 164.6,304.19 164.2,304.23 163.8,304.28 163.4,304.32 163.0,304.36 162.6,304.40 162.2,304.44 161.8,304.48 161.4,304.52 161.0,304.55 160.6,304.59 160.2,304.63 159.8,304.66 159.4,304.70 159.0,304.73 158.6,304.76 158.2,304.79 157.8,304.83 157.4,304.86 157.0,304.89 156.6,304.92 156.2,304.94 155.8,304.97 155.4,305.00 155.0,305.03 154.6,305.05 154.2,305.08 153.8,305.11 153.4,305.13 153.0,305.16 152.6,305.18 152.2,305.20 151.8,305.23 151.4,305.25 151.0,305.27 150.6,305.29 150.2,305.32 149.8,305.34 149.4,305.36 149.0,305.38 148.6,305.40 148.2,305.42 147.8,305.44 147.4,305.46 147.0,305.48 146.6,305.49 146.2,305.51 145.8,305.53 145.4,305.55 145.0,305.56 144.6,305.58 144.2,305.60 143.8,305.61 143.4,305.63 143.0,305.65 142.6,305.66 142.2,305.68 141.8,305.69 141.4,305.71 141.0,305.72 140.6,305.73 140.2,305.75 139.8,305.76 139.4,305.78 139.0,305.79 138.6,305.80 138.2,305.82 137.8,305.83 137.4,305.84 137.0,305.85 136.6,305.87 136.2,305.88 135.8,305.89 135.4,305.90 135.0,305.91 134.6,305.92 134.2,305.93 133.8,305.95 133.4,305.96 133.0,305.97 132.6,305.98 132.2,305.99 131.8,306.00 131.4,306.01 131.0,306.02 130.6,306.03 130.2,306.04 129.8,306.05 129.4,306.06 129.0,306.07 128.6,306.07 128.2,306.08 127.8,306.09 127.4,306.10 127.0,306.11 126.6,306.12 126.2,306.13 125.8,306.14 125.4,306.14 125.0,306.15 124.6,306.16 124.2,306.17 123.8,306.18 123.4,306.18 123.0,306.19 122.6,306.20 122.2,306.21 121.8,306.21 121.4,306.22 121.0,306.23 120.6,306.23 120.2,306.24 119.8,306.25 119.4,306.25 119.0,306.26 118.6,306.27 118.2,306.27 117.8,306.28 117.4,306.29 117.0,306.29 116.6,306.30 116.2,306.30 115.8,306.31 115.4,306.32 115.0,306.32 114.6,306.33 114.2,306.33 113.8,306.34 113.4,306.35 113.0,306.35 112.6,306.36 112.2,306.36 111.8,306.37 111.4,306.37 111.0,306.38 110.6,306.38 110.2,306.39 109.8,306.39 109.4,306.40 109.0,306.40 108.6,306.41 108.2,306.41 107.8,306.42 107.4,306.42 107.0,306.43 106.6,306.43 106.2,306.44 105.8,306.44 105.4,306.44 105.0,306.45 104.6,306.45 104.2,306.46 103.8,306.46 103.4,306.47 103.0,306.47 102.6,306.47 102.2,306.48 101.8,306.48 101.4,306.49 101.0,306.49 100.6,306.49 100.2,306.50 99.8,306.50 99.4,306.51 99.0,306.51 98.6,306.51 98.2,306.52 97.8,306.52 97.4,306.52 97.0,306.53 96.6,306.53 96.2,306.54 95.8,306.54 95.4,306.54 95.0,306.55 94.6,306.55 94.2,306.55 93.8,306.56 93.4,306.56 93.0,306.56 92.6,306.56 92.2,306.57 91.8,306.57 91.4,306.57 91.0,306.58 90.6,306.58 90.2,306.58 89.8,306.59 89.4,306.59 89.0,306.59 88.6,306.60 88.2,306.60 87.8,306.60 87.4,306.60 87.0,306.61 86.6,306.61 86.2,306.61 85.8,306.61 85.4,306.62 85.0,306.62 84.6,306.62 84.2,306.63 83.8,306.63 83.4,306.63 83.0,306.63 82.6,306.64 82.2,306.64 81.8,306.64 81.4,306.64 81.0,306.65 80.6,306.65 80.2,306.65 79.8,306.65 79.4,306.66 79.0,306.66 78.6,306.66 78.2,306.66 77.8,306.66 77.4,306.67 77.0,306.67 76.6,306.67 76.2,306.67 75.8,306.68 75.4,306.68 75.0,306.68 74.6,306.68 74.2,306.68 73.8,306.69 73.4,306.69 73.0,306.69 72.6,306.69 72.2,306.69 71.8,306.70 71.4,306.70 71.0,306.70 70.6,306.70 70.2,306.70 69.8,306.71 69.4,306.71 69.0,306.71 68.6,306.71 68.2,306.71 67.8,306.71 67.4,306.72 67.0,306.72 66.6,306.72 66.2,306.72 65.8,306.72 65.4,306.73 65.0,306.73 64.6,306.73 64.2,306.73 63.8,306.73 63.4,306.73 63.0,306.74 62.6,306.74 62.2,306.74 61.8,306.74 61.4,306.74 61.0,306.74 60.6,306.75 60.2,306.75 59.8,306.75 59.4,306.75 59.0,306.75 58.6,306.75 58.2,306.75 57.8,306.76 57.4,306.76 57.0,306.76 56.6,306.76 56.2,306.76 55.8,306.76 55.4,306.77 55.0,306.77 54.6,306.77 54.2,306.77 53.8,306.77 53.4,306.77 53.0,306.77 52.6,306.77 52.2,306.78 51.8,306.78 51.4,306.78 51.0,306.78 50.6,306.78 50.2,306.78 49.8,306.78 49.4,306.79 49.0,306.79 48.6,306.79 48.2,306.79 47.8,306.79 47.4,306.79 47.0,306.79 46.6,306.79 46.2,306.79 45.8,306.79 45.4,306.79 45.0,306.79 44.6,306.79 44.2,306.79 43.8,306.79 43.4,306.79 43.0,306.79Z" fill="#ff0000"/>
<path d="M46.00,303.90 L47.70,303.88 L47.70,305.90 L46.00,305.92Z M49.42,303.86 L51.12,303.84 L51.12,305.86 L49.42,305.88Z M52.84,303.82 L54.54,303.80 L54.54,305.82 L52.84,305.84Z M56.26,303.78 L57.96,303.76 L57.96,305.78 L56.26,305.80Z M59.68,303.74 L61.38,303.72 L61.38,305.74 L59.68,305.76Z M63.10,303.69 L64.80,303.67 L64.80,305.70 L63.10,305.72Z M66.52,303.64 L68.22,303.62 L68.22,305.65 L66.52,305.67Z M69.94,303.59 L71.64,303.57 L71.64,305.60 L69.94,305.62Z M73.36,303.54 L75.06,303.51 L75.06,305.55 L73.36,305.57Z M76.78,303.48 L78.48,303.46 L78.48,305.49 L76.78,305.52Z M80.20,303.43 L81.90,303.40 L81.90,305.43 L80.20,305.46Z M83.62,303.36 L85.32,303.33 L85.32,305.37 L83.62,305.40Z M87.04,303.30 L88.74,303.26 L88.74,305.30 L87.04,305.34Z M90.46,303.23 L92.16,303.19 L92.16,305.23 L90.46,305.27Z M93.88,303.15 L95.58,303.11 L95.58,305.16 L93.88,305.20Z M97.30,303.07 L99.00,303.03 L99.00,305.08 L97.30,305.12Z M100.72,302.99 L102.42,302.94 L102.42,305.00 L100.72,305.04Z M104.14,302.90 L105.84,302.85 L105.84,304.91 L104.14,304.95Z M107.56,302.80 L109.26,302.75 L109.26,304.81 L107.56,304.86Z M110.98,302.70 L112.68,302.65 L112.68,304.71 L110.98,304.76Z M114.40,302.59 L116.10,302.54 L116.10,304.60 L114.40,304.66Z M117.82,302.47 L119.52,302.41 L119.52,304.48 L117.82,304.54Z M121.24,302.35 L122.94,302.28 L122.94,304.36 L121.24,304.42Z M124.66,302.21 L126.36,302.15 L126.36,304.23 L124.66,304.30Z M128.08,302.07 L129.78,302.00 L129.78,304.08 L128.08,304.16Z M131.50,301.92 L133.20,301.84 L133.20,303.93 L131.50,304.01Z M134.92,301.75 L136.62,301.66 L136.62,303.76 L134.92,303.85Z M138.34,301.57 L140.04,301.48 L140.04,303.59 L138.34,303.68Z M141.76,301.37 L143.46,301.27 L143.46,303.39 L141.76,303.49Z M145.18,301.16 L146.88,301.06 L146.88,303.18 L145.18,303.29Z M148.60,300.94 L150.30,300.82 L150.30,302.96 L148.60,303.07Z M152.02,300.69 L153.72,300.56 L153.72,302.71 L152.02,302.84Z M155.44,300.42 L157.14,300.28 L157.14,302.45 L155.44,302.58Z M158.86,300.13 L160.56,299.98 L160.56,302.16 L158.86,302.31Z M162.28,299.81 L163.98,299.65 L163.98,301.84 L162.28,302.01Z M165.70,299.47 L167.40,299.29 L167.40,301.50 L165.70,301.68Z M169.12,299.09 L170.82,298.90 L170.82,301.13 L169.12,301.32Z M172.54,298.68 L174.24,298.47 L174.24,300.72 L172.54,300.93Z M175.96,298.23 L177.66,298.00 L177.66,300.27 L175.96,300.50Z M179.38,297.74 L181.08,297.48 L181.08,299.78 L179.38,300.04Z M182.80,297.20 L184.50,296.92 L184.50,299.25 L182.80,299.53Z M186.22,296.61 L187.92,296.31 L187.92,298.66 L186.22,298.97Z M189.64,295.97 L191.34,295.64 L191.34,298.03 L189.64,298.36Z M193.06,295.27 L194.76,294.91 L194.76,297.33 L193.06,297.69Z M196.48,294.51 L198.18,294.12 L198.18,296.58 L196.48,296.97Z M199.90,293.68 L201.60,293.26 L201.60,295.76 L199.90,296.18Z M203.32,292.80 L205.02,292.34 L205.02,294.88 L203.32,295.33Z M206.74,291.85 L208.44,291.36 L208.44,293.93 L206.74,294.42Z M210.16,290.84 L211.86,290.33 L211.86,292.93 L210.16,293.44Z M213.58,289.78 L215.28,289.25 L215.28,291.88 L213.58,292.41Z M217.00,288.70 L218.70,288.15 L218.70,290.79 L217.00,291.34Z M220.42,287.60 L222.12,287.05 L222.12,289.69 L220.42,290.24Z M223.84,286.51 L225.54,285.98 L225.54,288.61 L223.84,289.14Z M227.26,285.48 L228.96,284.99 L228.96,287.57 L227.26,288.06Z M230.68,284.55 L232.38,284.11 L232.38,286.62 L230.68,287.06Z M234.10,283.75 L235.80,283.39 L235.80,285.81 L234.10,286.17Z M237.52,283.13 L239.22,282.88 L239.22,285.18 L237.52,285.44Z M240.94,282.74 L242.64,282.60 L242.64,284.76 L240.94,284.91Z M244.36,282.59 L246.06,282.57 L246.06,284.59 L244.36,284.61Z M247.78,282.56 L249.48,282.67 L249.48,284.80 L247.78,284.69Z M251.20,282.77 L252.90,283.00 L252.90,285.27 L251.20,285.04Z M254.62,283.23 L256.32,283.56 L256.32,285.95 L254.62,285.62Z M258.04,283.89 L259.74,284.31 L259.74,286.80 L258.04,286.38Z M261.46,284.73 L263.16,285.21 L263.16,287.78 L261.46,287.29Z M264.88,285.70 L266.58,286.22 L266.58,288.83 L264.88,288.31Z M268.30,286.75 L270.00,287.29 L270.00,289.93 L268.30,289.39Z M271.72,287.84 L273.42,288.39 L273.42,291.03 L271.72,290.48Z M275.14,288.94 L276.84,289.48 L276.84,292.12 L275.14,291.58Z M278.56,290.03 L280.26,290.55 L280.26,293.16 L278.56,292.64Z M281.98,291.08 L283.68,291.57 L283.68,294.15 L281.98,293.66Z M285.40,292.07 L287.10,292.54 L287.10,295.08 L285.40,294.62Z M288.82,293.01 L290.52,293.44 L290.52,295.95 L288.82,295.52Z M292.24,293.88 L293.94,294.28 L293.94,296.76 L292.24,296.36Z M295.66,294.69 L297.36,295.06 L297.36,297.50 L295.66,297.13Z M299.08,295.44 L300.78,295.78 L300.78,298.18 L299.08,297.84Z M302.50,296.13 L304.20,296.44 L304.20,298.80 L302.50,298.49Z M305.92,296.75 L307.62,297.04 L307.62,299.38 L305.92,299.09Z M309.34,297.33 L311.04,297.59 L311.04,299.90 L309.34,299.64Z M312.76,297.86 L314.46,298.10 L314.46,300.38 L312.76,300.14Z M316.18,298.34 L317.88,298.56 L317.88,300.81 L316.18,300.60Z M319.60,298.78 L321.30,298.98 L321.30,301.21 L319.60,301.01Z M323.02,299.18 L324.72,299.37 L324.72,301.58 L323.02,301.40Z M326.44,299.55 L328.14,299.72 L328.14,301.92 L326.44,301.75Z M329.86,299.89 L331.56,300.04 L331.56,302.23 L329.86,302.07Z M333.28,300.20 L334.98,300.34 L334.98,302.51 L333.28,302.37Z M336.70,300.49 L338.40,300.62 L338.40,302.77 L336.70,302.64Z M340.12,300.75 L341.82,300.87 L341.82,303.01 L340.12,302.89Z M343.54,300.99 L345.24,301.10 L345.24,303.23 L343.54,303.12Z M346.96,301.22 L348.66,301.32 L348.66,303.44 L346.96,303.34Z M350.38,301.42 L352.08,301.52 L352.08,303.63 L350.38,303.53Z M353.80,301.61 L355.50,301.70 L355.50,303.80 L353.80,303.72Z M357.22,301.79 L358.92,301.87 L358.92,303.97 L357.22,303.88Z M360.64,301.95 L362.34,302.03 L362.34,304.12 L360.64,304.04Z M364.06,302.11 L365.76,302.18 L365.76,304.26 L364.06,304.19Z M367.48,302.25 L369.18,302.31 L369.18,304.39 L367.48,304.32Z M370.90,302.38 L372.60,302.44 L372.60,304.51 L370.90,304.45Z M374.32,302.50 L376.02,302.56 L376.02,304.63 L374.32,304.57Z M377.74,302.62 L379.44,302.67 L379.44,304.73 L377.74,304.68Z M381.16,302.72 L382.86,302.77 L382.86,304.83 L381.16,304.78Z M384.58,302.83 L386.28,302.87 L386.28,304.93 L384.58,304.88Z M388.00,302.92 L389.70,302.96 L389.70,305.02 L388.00,304.97Z M391.42,303.01 L393.12,303.05 L393.12,305.10 L391.42,305.06Z M394.84,303.09 L396.54,303.13 L396.54,305.18 L394.84,305.14Z M398.26,303.17 L399.96,303.21 L399.96,305.25 L398.26,305.21Z" fill="#0000ff"/>
</g>
<path d="M223.50,163.0 V306.0" stroke="#00e000" stroke-width="1" stroke-dasharray="2.3 1.25" fill="none"/>
<path d="M45.5,306.0 H401.5" stroke="#000" stroke-width="1" fill="none" opacity="0.6"/>
<text x="40" y="311.60" text-anchor="end">0</text>
<text x="40" y="275.73" text-anchor="end">2</text>
<text x="40" y="239.85" text-anchor="end">4</text>
<text x="40" y="203.97" text-anchor="end">6</text>
<text x="46.00" y="320.5" text-anchor="middle">-1</text>
<text x="134.75" y="320.5" text-anchor="middle">-0.5</text>
<text x="223.50" y="320.5" text-anchor="middle">0</text>
<text x="312.25" y="320.5" text-anchor="middle">0.5</text>
<text x="401.00" y="320.5" text-anchor="middle">1</text>
<text transform="translate(223.80,338.6) scale(1.08,1.3)" text-anchor="middle" style="font-size:14px;font-weight:bold;stroke:#000;stroke-width:0.3px">ω</text>
<text transform="translate(12.0,161.1) rotate(-90)" style="font-size:15.6px">A</text>
<text transform="translate(12.3,150.8) rotate(-90)" style="font-size:17.5px">(</text>
<text transform="translate(12.1,144.6) rotate(-90) scale(1,1.25)" style="font-size:13px;font-weight:bold">ω</text>
<text transform="translate(12.3,133.6) rotate(-90)" style="font-size:17.5px">)</text>
<text x="346.5" y="30.7" text-anchor="end" style="font-size:14px;letter-spacing:-0.17px">narrower band</text>
<text x="346.5" y="63.3" text-anchor="end" style="font-size:14px;letter-spacing:-0.17px">wider band</text>
<path d="M352.8,26.1 H389.3" stroke="#ff0000" stroke-width="2.1"/>
<path d="M352.8,58.6 H389.3" stroke="#0000ff" stroke-width="2.0" stroke-dasharray="1.7 1.72"/>
</svg>
</body></html>
